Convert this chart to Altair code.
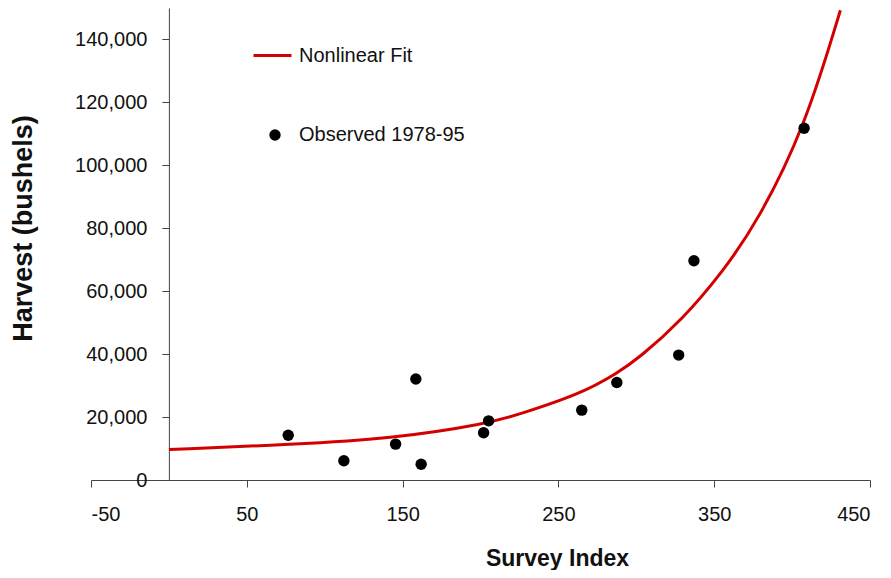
import altair as alt
import pandas as pd

# Observed points (Survey Index, Harvest in bushels)
obs_x = [76.6, 112.3, 145.5, 158.5, 161.9, 202.0, 205.2, 265.0, 287.5, 327.2, 337.0, 407.7]
obs_y = [14200, 6100, 11400, 32100, 5000, 15000, 18800, 22200, 31000, 39700, 69700, 111800]

# Nonlinear fit curve
fit_x = [0, 80, 144, 205, 225, 264, 288, 302, 329, 356, 378, 408, 431]
fit_y = [9700, 11300, 13200, 17950, 20900, 27300, 34000, 38900, 50640, 66470, 82290, 111800, 149300]

x_ticks = [-50, 50, 150, 250, 350, 450]
y_ticks = [0, 20000, 40000, 60000, 80000, 100000, 120000, 140000]

obs = pd.DataFrame({"x": obs_x, "y": obs_y, "series": "Observed 1978-95"})
fit = pd.DataFrame({"x": fit_x, "y": fit_y, "series": "Nonlinear Fit"})

W, H = 779, 472
FONT = "Liberation Sans"

xscale = alt.Scale(domain=[-50, 450], nice=False, zero=False)
yscale = alt.Scale(domain=[0, 150000], nice=False)

xaxis = alt.Axis(values=x_ticks, title="Survey Index", grid=False,
                 labelExpr="datum.value < 0 ? '-' + abs(datum.value) : datum.label",
                 labelFontSize=20, labelFont=FONT, labelColor="#111",
                 titleFontSize=23, titleFont=FONT, titleFontWeight="bold", titleColor="#111",
                 tickSize=7, labelPadding=17, domainColor="#444", tickColor="#444",
                 titleX=466, titleY=78, titleBaseline="middle", titleAnchor="middle")
yaxis = alt.Axis(values=y_ticks, title="Harvest (bushels)", grid=False, format=",.0f",
                 labelFontSize=20, labelFont=FONT, labelColor="#111",
                 titleFontSize=27, titleFont=FONT, titleFontWeight="bold", titleColor="#111",
                 tickSize=7, labelPadding=15, domainColor="#444", tickColor="#444",
                 offset=-77.9, titleX=-145, titleY=220, titleBaseline="middle",
                 titleAngle=270)

line = alt.Chart(fit).mark_line(strokeWidth=3, interpolate="basis", clip=True).encode(
    x=alt.X("x:Q", scale=xscale, axis=xaxis),
    y=alt.Y("y:Q", scale=yscale, axis=yaxis),
    color=alt.Color("series:N",
                    scale=alt.Scale(domain=["Nonlinear Fit"], range=["#d40000"]),
                    legend=alt.Legend(title=None, orient="none", legendX=161, legendY=27,
                                      symbolType="stroke", symbolSize=1444, symbolStrokeWidth=3,
                                      labelFontSize=20, labelFont=FONT, labelColor="#111",
                                      labelOffset=6, padding=0, labelLimit=400)),
)

points = alt.Chart(obs).mark_point(filled=True, size=130, color="black", opacity=1).encode(
    x="x:Q",
    y="y:Q",
    shape=alt.Shape("series:N",
                    scale=alt.Scale(domain=["Observed 1978-95"], range=["circle"]),
                    legend=alt.Legend(title=None, orient="none", legendX=174, legendY=117,
                                      symbolSize=130, symbolFillColor="black", symbolStrokeColor="black",
                                      labelFontSize=20, labelFont=FONT, labelColor="#111",
                                      labelOffset=14, padding=0, labelLimit=400)),
)

chart = alt.layer(line, points).resolve_legend(color="independent", shape="independent").properties(
    width=W, height=H,
    autosize=alt.AutoSizeParams(type="none"),
    padding={"left": 83, "top": 0, "right": 10, "bottom": 90},
).configure_view(stroke=None)

chart.save("out.html", embed_options={"renderer": "svg", "actions": False})
